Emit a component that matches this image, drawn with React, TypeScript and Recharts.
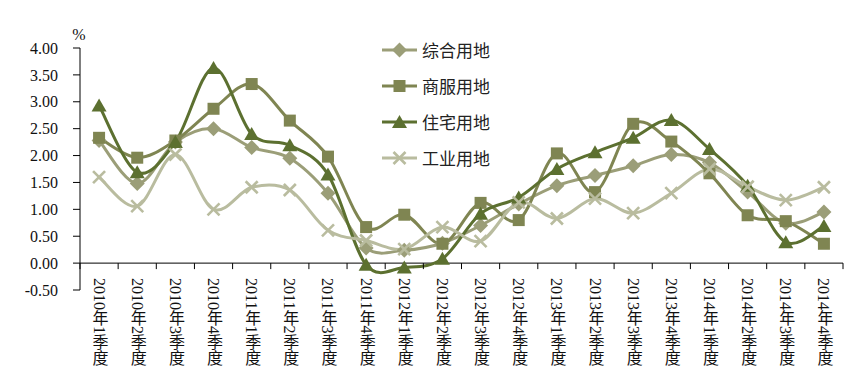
import React from 'react';
import { LineChart, Line, XAxis, YAxis, ReferenceLine } from 'recharts';

const categories = [
  '2010年1季度', '2010年2季度', '2010年3季度', '2010年4季度',
  '2011年1季度', '2011年2季度', '2011年3季度', '2011年4季度',
  '2012年1季度', '2012年2季度', '2012年3季度', '2012年4季度',
  '2013年1季度', '2013年2季度', '2013年3季度', '2013年4季度',
  '2014年1季度', '2014年2季度', '2014年3季度', '2014年4季度',
];
const zonghe = [2.28, 1.48, 2.25, 2.5, 2.15, 1.95, 1.3, 0.28, 0.24, 0.37, 0.7, 1.1, 1.44, 1.63, 1.81, 2.02, 1.87, 1.32, 0.74, 0.95];
const shangfu = [2.33, 1.96, 2.28, 2.87, 3.33, 2.65, 1.98, 0.67, 0.9, 0.36, 1.12, 0.8, 2.04, 1.32, 2.59, 2.26, 1.67, 0.89, 0.78, 0.36];
const zhuzhai = [2.93, 1.69, 2.25, 3.63, 2.4, 2.19, 1.65, -0.03, -0.08, 0.08, 0.92, 1.22, 1.75, 2.06, 2.33, 2.66, 2.12, 1.44, 0.39, 0.69];
const gongye = [1.6, 1.06, 2.02, 1.0, 1.41, 1.36, 0.61, 0.42, 0.26, 0.67, 0.41, 1.13, 0.83, 1.2, 0.93, 1.3, 1.75, 1.42, 1.17, 1.41];
const yTicks = [-0.5, 0, 0.5, 1, 1.5, 2, 2.5, 3, 3.5, 4];

const data = categories.map((c, i) => ({
  cat: c,
  zonghe: zonghe[i],
  shangfu: shangfu[i],
  zhuzhai: zhuzhai[i],
  gongye: gongye[i],
}));

const W = 857;
const H = 390;
const M = { top: 48, right: 14, bottom: 0, left: 0 };
const YW = 80;
const XH = 100;
const plotW = W - M.left - M.right - YW;
const plotH = H - M.top - M.bottom - XH;
const Y_MIN = -0.5;
const Y_MAX = 4;
const zeroY = M.top + ((Y_MAX - 0) / (Y_MAX - Y_MIN)) * plotH;
const step = plotW / categories.length;

const C_ZH = '#9b9e78';
const C_SF = '#7f8552';
const C_ZZ = '#5c7030';
const C_GY = '#b9bc9f';

const SERIF = '"Liberation Serif", "Noto Sans CJK SC", serif';

// Excel-like smooth curve (Catmull-Rom via cubic Bezier)
function excelCurve(context: any) {
  let pts: [number, number][] = [];
  return {
    areaStart() {},
    areaEnd() {},
    lineStart() {
      pts = [];
    },
    lineEnd() {
      const n = pts.length;
      if (!n) return;
      context.moveTo(pts[0][0], pts[0][1]);
      const t = 1 / 6;
      for (let i = 0; i < n - 1; i++) {
        const p0 = pts[Math.max(0, i - 1)];
        const p1 = pts[i];
        const p2 = pts[i + 1];
        const p3 = pts[Math.min(n - 1, i + 2)];
        context.bezierCurveTo(
          p1[0] + (p2[0] - p0[0]) * t,
          p1[1] + (p2[1] - p0[1]) * t,
          p2[0] - (p3[0] - p1[0]) * t,
          p2[1] - (p3[1] - p1[1]) * t,
          p2[0],
          p2[1]
        );
      }
    },
    point(x: number, y: number) {
      pts.push([+x, +y]);
    },
  };
}

type ShapeKind = 'diamond' | 'square' | 'triangle' | 'x';

function Marker({ kind, cx, cy, color }: { kind: ShapeKind; cx: number; cy: number; color: string }) {
  if (kind === 'diamond') {
    const r = 7.5;
    return <polygon points={`${cx},${cy - r} ${cx + r},${cy} ${cx},${cy + r} ${cx - r},${cy}`} fill={color} />;
  }
  if (kind === 'square') {
    const r = 6;
    return <rect x={cx - r} y={cy - r} width={2 * r} height={2 * r} fill={color} />;
  }
  if (kind === 'triangle') {
    const w = 7.5;
    return <polygon points={`${cx},${cy - 7} ${cx + w},${cy + 6} ${cx - w},${cy + 6}`} fill={color} />;
  }
  const r = 6;
  return (
    <g stroke={color} strokeWidth={2.6}>
      <line x1={cx - r} y1={cy - r} x2={cx + r} y2={cy + r} />
      <line x1={cx - r} y1={cy + r} x2={cx + r} y2={cy - r} />
    </g>
  );
}

const makeDot = (kind: ShapeKind, color: string) => (props: any) => {
  const { cx, cy, index } = props;
  if (cx == null || cy == null) return <g key={index} />;
  return <Marker key={index} kind={kind} cx={cx} cy={cy} color={color} />;
};

const XTick = (props: any) => {
  const { x, payload, index } = props;
  const left = x - step / 2;
  const right = x + step / 2;
  return (
    <g>
      <line x1={left} y1={zeroY} x2={left} y2={zeroY + 6} stroke="#000" strokeWidth={1} />
      {index === categories.length - 1 && (
        <line x1={right} y1={zeroY} x2={right} y2={zeroY + 6} stroke="#000" strokeWidth={1} />
      )}
      <text
        x={x}
        y={zeroY + 15}
        fill="#111"
        fontSize={16}
        fontFamily={SERIF}
        style={{ writingMode: 'vertical-rl' as any }}
      >
        {payload.value}
      </text>
    </g>
  );
};

const legendItems: { name: string; kind: ShapeKind; color: string }[] = [
  { name: '综合用地', kind: 'diamond', color: C_ZH },
  { name: '商服用地', kind: 'square', color: C_SF },
  { name: '住宅用地', kind: 'triangle', color: C_ZZ },
  { name: '工业用地', kind: 'x', color: C_GY },
];

const LegendBox = () => (
  <div style={{ position: 'absolute', left: 380, top: 32, width: 170 }}>
    {legendItems.map((it) => (
      <div key={it.name} style={{ display: 'flex', alignItems: 'center', height: 36 }}>
        <svg width={38} height={20}>
          <line x1={2} y1={10} x2={37} y2={10} stroke={it.color} strokeWidth={3} />
          <Marker kind={it.kind} cx={19.5} cy={10} color={it.color} />
        </svg>
        <span
          style={{
            marginLeft: 4,
            fontSize: 17,
            fontFamily: '"Noto Sans CJK SC", sans-serif',
            color: '#222',
            lineHeight: '20px',
          }}
        >
          {it.name}
        </span>
      </div>
    ))}
  </div>
);

export default function App() {
  return (
    <div style={{ position: 'absolute', left: 0, top: 0, width: W, height: H, background: '#fff' }}>
      <LineChart width={W} height={H} data={data} margin={M}>
        <XAxis
          dataKey="cat"
          axisLine={false}
          tickLine={false}
          height={XH}
          interval={0}
          padding={{ left: step / 2, right: step / 2 }}
          tick={<XTick />}
        />
        <YAxis
          width={YW}
          domain={[Y_MIN, Y_MAX]}
          ticks={yTicks}
          interval={0}
          tickFormatter={(v: number) => v.toFixed(2)}
          axisLine={{ stroke: '#000', strokeWidth: 1 }}
          tickLine={{ stroke: '#000', strokeWidth: 1 }}
          tickSize={7}
          tickMargin={15}
          tick={{ fill: '#111', fontSize: 16, fontFamily: SERIF }}
          label={{ value: '%', position: 'top', offset: 8, dx: 39, fill: '#111', fontSize: 16, fontFamily: SERIF }}
        />
        <ReferenceLine y={0} stroke="#000" strokeWidth={1} />
        <Line dataKey="zonghe" name="综合用地" type={excelCurve as any} stroke={C_ZH} strokeWidth={3} dot={makeDot('diamond', C_ZH)} activeDot={false} isAnimationActive={false} />
        <Line dataKey="shangfu" name="商服用地" type={excelCurve as any} stroke={C_SF} strokeWidth={3} dot={makeDot('square', C_SF)} activeDot={false} isAnimationActive={false} />
        <Line dataKey="zhuzhai" name="住宅用地" type={excelCurve as any} stroke={C_ZZ} strokeWidth={3} dot={makeDot('triangle', C_ZZ)} activeDot={false} isAnimationActive={false} />
        <Line dataKey="gongye" name="工业用地" type={excelCurve as any} stroke={C_GY} strokeWidth={3} dot={makeDot('x', C_GY)} activeDot={false} isAnimationActive={false} />
      </LineChart>
      <LegendBox />
    </div>
  );
}
